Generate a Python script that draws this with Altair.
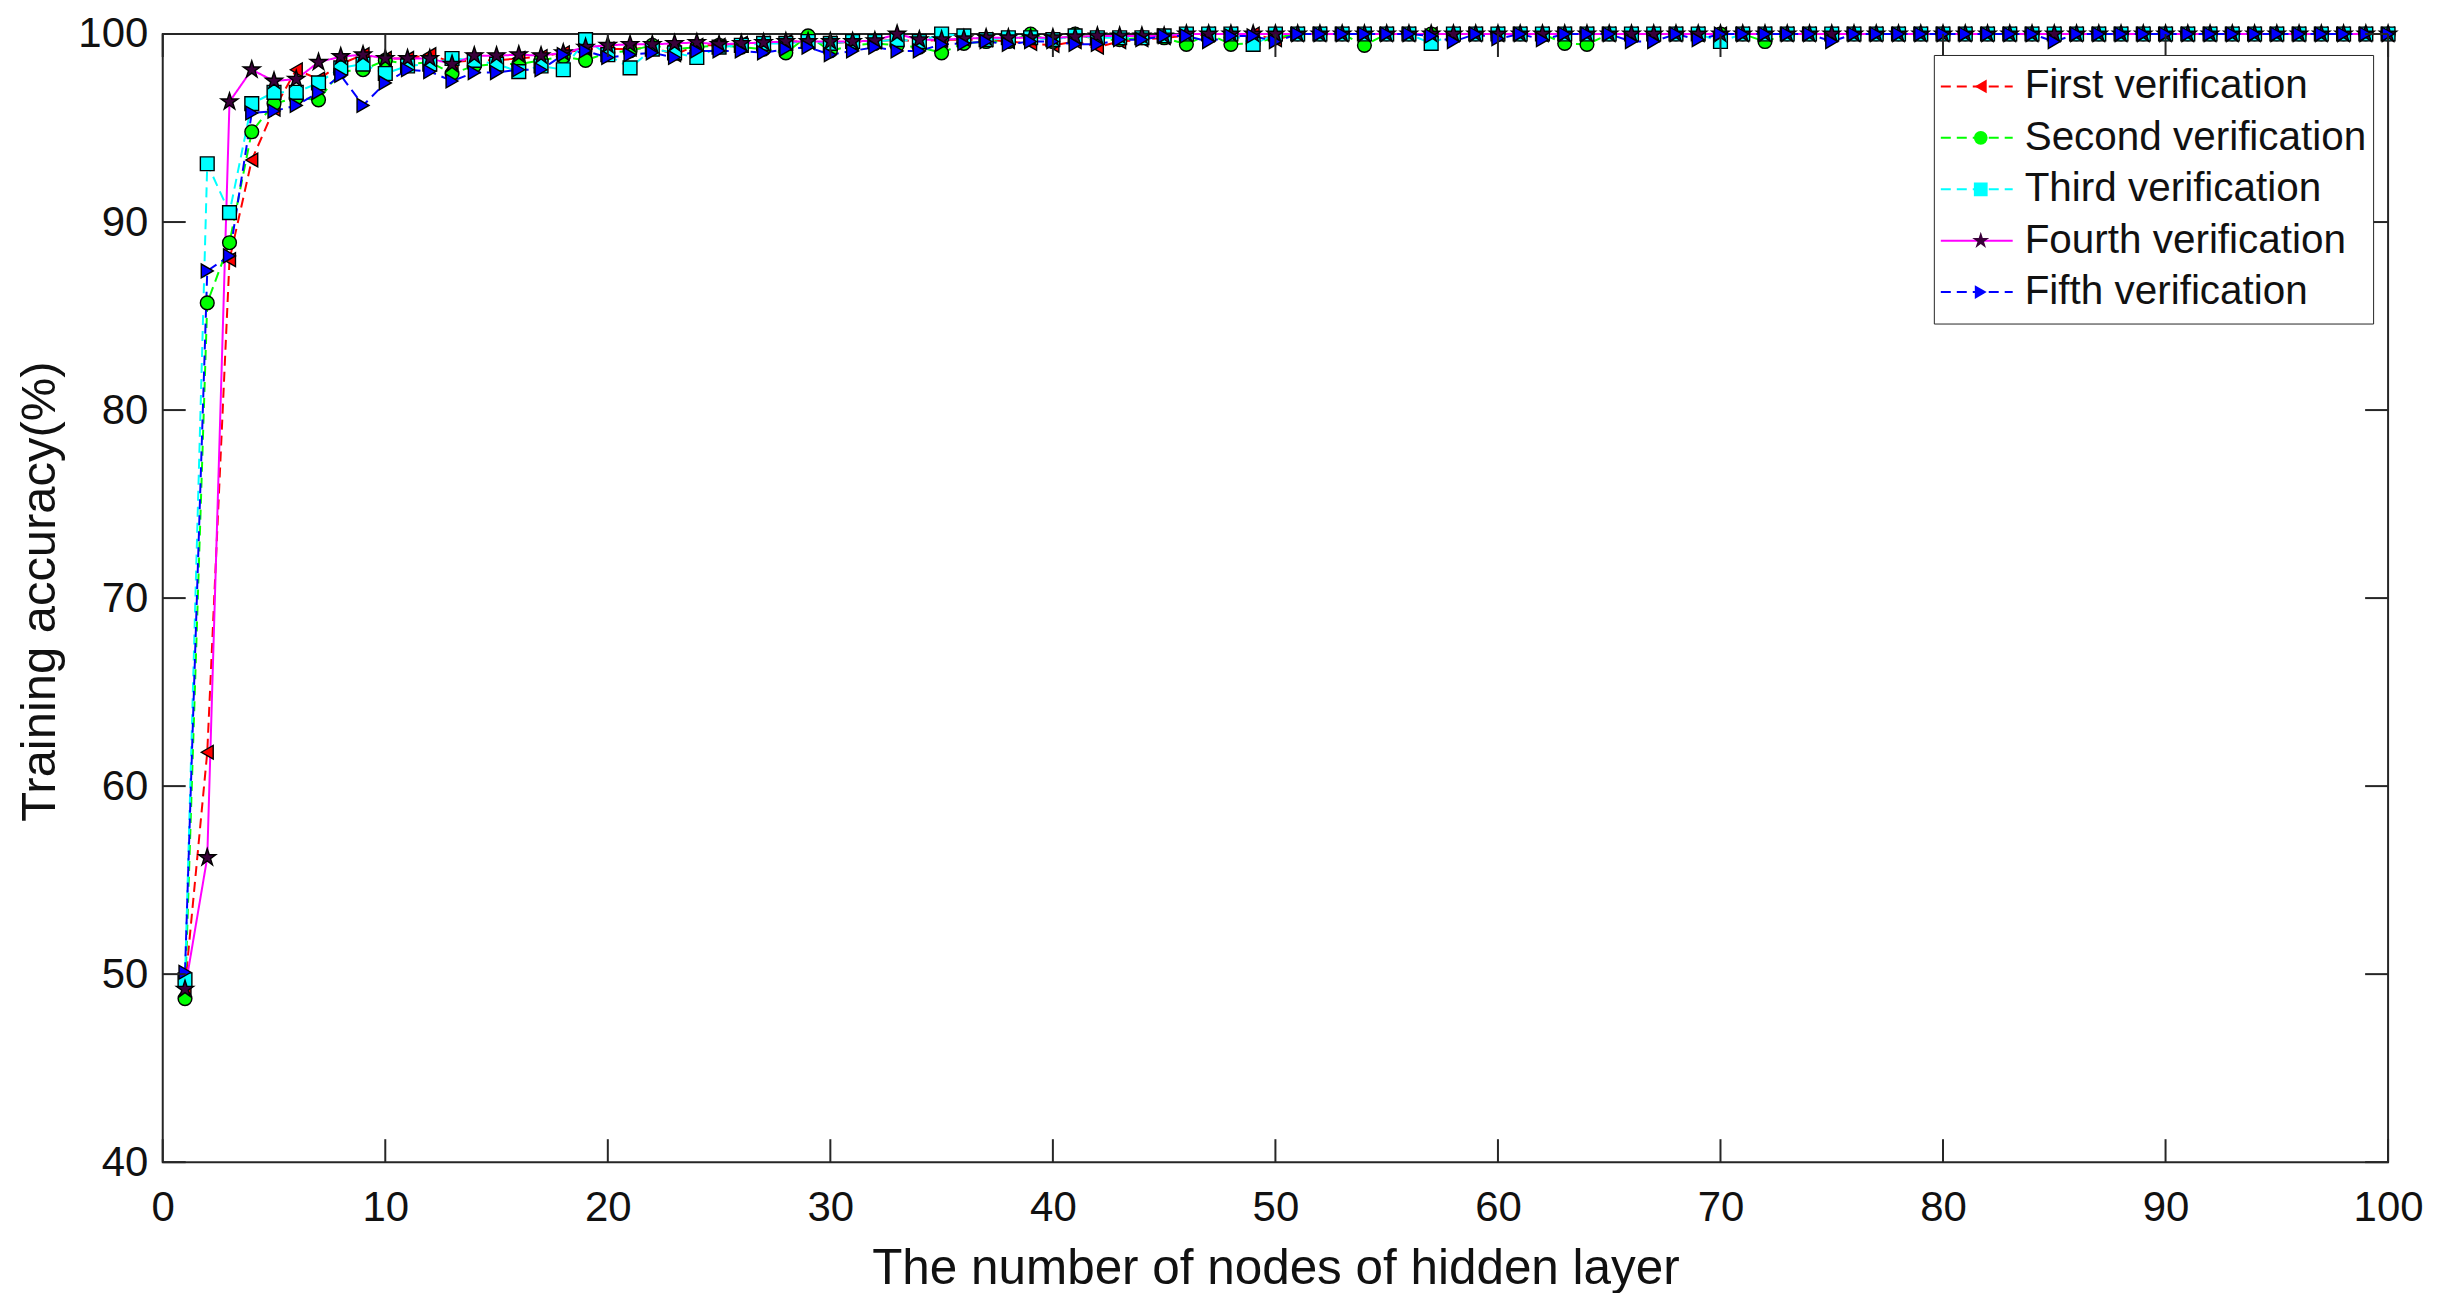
import altair as alt
import pandas as pd

# ---------------- data ----------------
nodes = list(range(1, 101))
x_ticks = [0, 10, 20, 30, 40, 50, 60, 70, 80, 90, 100]
y_ticks = [40, 50, 60, 70, 80, 90, 100]

names = ["First verification", "Second verification", "Third verification",
         "Fourth verification", "Fifth verification"]
keys = ["a", "b", "c", "d", "e"]

first = [49.3, 61.8, 88.0, 93.3, 96.0, 98.1, 97.6, 98.4, 98.9, 98.7,
         98.7, 98.9, 98.5, 98.6, 98.6, 98.7, 98.8, 99.0, 99.2, 99.2,
         99.2, 99.3, 98.9, 99.4, 99.4, 99.5, 99.5, 99.6, 99.6, 99.5,
         99.6, 99.6, 99.7, 99.6, 99.7, 99.7, 99.7, 99.6, 99.5, 99.4,
         99.6, 99.3, 99.6, 99.7, 99.8, 99.9, 100, 100, 100, 99.7,
         100, 100, 100, 100, 100, 100, 100, 100, 100, 100,
         100, 100, 100, 100, 100, 100, 100, 100, 100, 100,
         100, 100, 100, 100, 100, 100, 100, 100, 100, 100,
         100, 100, 100, 100, 100, 100, 100, 100, 100, 100,
         100, 100, 100, 100, 100, 100, 100, 100, 100, 100]

second = [48.7, 85.7, 88.9, 94.8, 96.3, 96.6, 96.5, 98.0, 98.1, 98.6,
          98.4, 98.5, 97.9, 98.3, 98.4, 98.4, 98.6, 98.8, 98.6, 99.0,
          99.1, 99.4, 99.2, 99.3, 99.4, 99.3, 99.2, 99.0, 99.9, 99.1,
          99.4, 99.5, 99.4, 99.3, 99.0, 99.5, 99.6, 99.6, 100, 99.6,
          100, 99.7, 99.7, 99.8, 99.8, 99.45, 100, 99.45, 99.5, 99.8,
          100, 100, 100, 99.4, 100, 100, 100, 100, 100, 100,
          100, 100, 99.5, 99.45, 100, 100, 100, 100, 100, 100,
          100, 99.6, 100, 100, 100, 100, 100, 100, 100, 100,
          100, 100, 100, 100, 100, 100, 100, 100, 100, 100,
          100, 100, 100, 100, 100, 100, 100, 100, 100, 100]

third = [49.7, 93.1, 90.5, 96.3, 96.9, 96.9, 97.4, 98.2, 98.4, 97.9,
         98.3, 98.4, 98.7, 98.6, 98.4, 98.0, 98.3, 98.1, 99.7, 98.9,
         98.2, 99.2, 99.0, 98.75, 99.3, 99.4, 99.5, 99.5, 99.6, 99.5,
         99.6, 99.6, 99.7, 99.6, 100, 99.9, 99.7, 99.8, 99.8, 99.7,
         99.9, 99.8, 99.8, 99.8, 99.9, 100, 100, 100, 99.45, 100,
         100, 100, 100, 100, 100, 100, 99.5, 100, 100, 100,
         100, 100, 100, 100, 100, 100, 100, 100, 100, 99.6,
         100, 100, 100, 100, 100, 100, 100, 100, 100, 100,
         100, 100, 100, 100, 100, 100, 100, 100, 100, 100,
         100, 100, 100, 100, 100, 100, 100, 100, 100, 100]

fourth = [49.2, 56.2, 96.4, 98.1, 97.5, 97.6, 98.5, 98.8, 98.9, 98.7,
          98.7, 98.7, 98.4, 98.85, 98.85, 98.9, 98.85, 99.0, 99.3, 99.4,
          99.45, 99.45, 99.5, 99.55, 99.45, 99.5, 99.55, 99.6, 99.6, 99.6,
          99.6, 99.65, 100, 99.7, 99.7, 99.75, 99.8, 99.8, 99.8, 99.8,
          99.85, 99.9, 99.9, 99.9, 99.9, 100, 100, 100, 100, 100,
          100, 100, 100, 100, 100, 100, 100, 100, 100, 100,
          100, 100, 100, 100, 100, 100, 100, 100, 100, 100,
          100, 100, 100, 100, 100, 100, 100, 100, 100, 100,
          100, 100, 100, 100, 100, 100, 100, 100, 100, 100,
          100, 100, 100, 100, 100, 100, 100, 100, 100, 100]

fifth = [50.1, 87.4, 88.2, 95.8, 95.9, 96.2, 96.9, 97.8, 96.2, 97.4,
         98.1, 98.0, 97.5, 97.95, 97.95, 98.1, 98.1, 98.9, 99.1, 98.75,
         98.9, 99.0, 98.75, 99.1, 99.1, 99.1, 99.0, 99.2, 99.3, 98.9,
         99.1, 99.3, 99.1, 99.1, 99.45, 99.5, 99.6, 99.45, 99.6, 99.6,
         99.45, 99.45, 99.7, 99.7, 99.9, 99.9, 99.6, 99.9, 99.9, 99.6,
         100, 100, 100, 100, 100, 100, 99.9, 99.6, 100, 99.75,
         100, 99.7, 100, 100, 100, 99.6, 99.6, 100, 99.7, 100,
         100, 100, 100, 100, 99.6, 100, 100, 100, 100, 100,
         100, 100, 100, 100, 99.6, 100, 100, 100, 100, 100,
         100, 100, 100, 100, 100, 100, 100, 100, 100, 100]

series_values = [first, second, third, fourth, fifth]

# ---------------- styles ----------------
colors = ["#FF0000", "#00FF00", "#00FFFF", "#FF00FF", "#0000FF"]
face_colors = ["#FF0000", "#00FF00", "#00FFFF", "#3a003a", "#0000FF"]
dashes = [[10, 6], [10, 6], [10, 6], [1, 0], [10, 6]]
STAR = ("M0,-1.3L0.292,-0.402L1.236,-0.402L0.472,0.154L0.764,1.052L0,0.496"
        "L-0.764,1.052L-0.472,0.154L-1.236,-0.402L-0.292,-0.402Z")
shapes = ["triangle-left", "circle", "square", STAR, "triangle-right"]

FONT = "Liberation Sans"
AX = "#262626"
TXT = "#111111"
W, H = 2229, 1130
TICK = 23
MSIZE = 190

rows = []
for name, key, vals in zip(names, keys, series_values):
    for n, v in zip(nodes, vals):
        rows.append({"n": n, "acc": v, "s": name, "k": key})
df = pd.DataFrame(rows)

xscale = alt.Scale(domain=[0, 100], nice=False, zero=False)
yscale = alt.Scale(domain=[40, 100], nice=False, zero=False)

x_axis = alt.Axis(values=x_ticks, title="The number of nodes of hidden layer",
                  grid=False, domain=False, ticks=False, tickSize=0,
                  labelFontSize=42, labelFont=FONT, labelColor=TXT, labelPadding=25,
                  labelFlush=False, titleFontSize=49.5, titleFont=FONT, titleColor=TXT,
                  titleFontWeight="normal", titleBaseline="alphabetic", titleY=122)
y_axis = alt.Axis(values=y_ticks, title="Training accuracy(%)",
                  grid=False, domain=False, ticks=False, tickSize=0,
                  labelFontSize=42, labelFont=FONT, labelColor=TXT, labelPadding=15,
                  titleFontSize=49, titleFont=FONT, titleColor=TXT,
                  titleFontWeight="normal", titleAngle=270, titleAlign="center",
                  titleBaseline="alphabetic", titleX=-108, titleY=558)

legA = alt.Legend(title=None, orient="none", legendX=1774, legendY=21, padding=6,
                  strokeColor=AX, fillColor="white", symbolType="stroke",
                  symbolSize=5184, symbolStrokeWidth=2, clipHeight=51, rowPadding=0.5,
                  labelOffset=11, labelFontSize=40.5, labelFont=FONT, labelColor=TXT,
                  labelLimit=600)
legB = alt.Legend(title=None, orient="none", legendX=1795, legendY=21, padding=6,
                  symbolSize=MSIZE, symbolStrokeColor="black", symbolStrokeWidth=1.4,
                  symbolOpacity=1, clipHeight=51, rowPadding=0.5, labelExpr="''",
                  labelFontSize=40, labelFont=FONT)

base = alt.Chart(df)

lines = base.mark_line(strokeWidth=2).encode(
    x=alt.X("n:Q", scale=xscale, axis=x_axis),
    y=alt.Y("acc:Q", scale=yscale, axis=y_axis),
    color=alt.Color("s:N", scale=alt.Scale(domain=names, range=colors), legend=legA),
    strokeDash=alt.StrokeDash("s:N", scale=alt.Scale(domain=names, range=dashes), legend=legA),
    order=alt.Order("n:Q"),
)

points = base.mark_point(filled=True, size=MSIZE, stroke="black", strokeWidth=1.4,
                         opacity=1).encode(
    x=alt.X("n:Q", scale=xscale, axis=x_axis),
    y=alt.Y("acc:Q", scale=yscale, axis=y_axis),
    fill=alt.Fill("k:N", scale=alt.Scale(range=face_colors), legend=legB),
    shape=alt.Shape("k:N", scale=alt.Scale(range=shapes), legend=legB),
)

xt = pd.DataFrame({"t": x_ticks})
yt = pd.DataFrame({"t": y_ticks})

bottom_ticks = alt.Chart(xt).mark_rule(color=AX, strokeWidth=2).encode(
    x=alt.X("t:Q", scale=xscale, axis=x_axis), y=alt.value(H), y2=alt.value(H - TICK))
top_ticks = alt.Chart(xt).mark_rule(color=AX, strokeWidth=2).encode(
    x=alt.X("t:Q", scale=xscale, axis=x_axis), y=alt.value(0), y2=alt.value(TICK))
left_ticks = alt.Chart(yt).mark_rule(color=AX, strokeWidth=2).encode(
    y=alt.Y("t:Q", scale=yscale, axis=y_axis), x=alt.value(0), x2=alt.value(TICK))
right_ticks = alt.Chart(yt).mark_rule(color=AX, strokeWidth=2).encode(
    y=alt.Y("t:Q", scale=yscale, axis=y_axis), x=alt.value(W), x2=alt.value(W - TICK))

chart = alt.layer(lines, points, bottom_ticks, top_ticks, left_ticks, right_ticks).properties(
    width=W, height=H,
    autosize=alt.AutoSizeParams(type="none"),
    padding={"left": 155, "top": 25, "right": 50, "bottom": 130},
    background="white",
).configure_view(stroke=AX, strokeWidth=2)

chart.save("out.html", embed_options={"renderer": "svg", "actions": False})
